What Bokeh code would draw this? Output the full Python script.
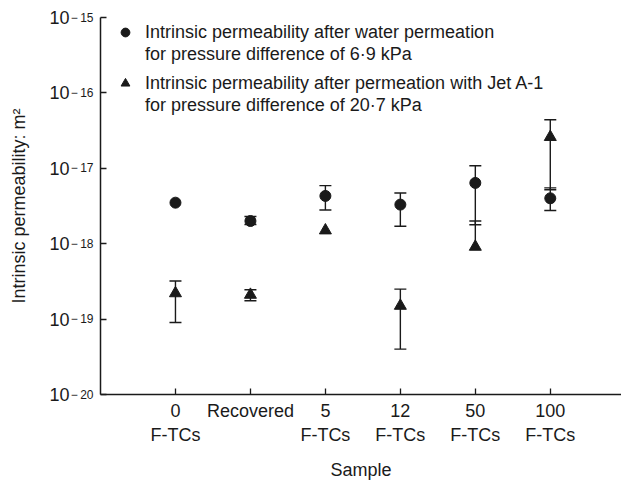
import math
from bokeh.plotting import figure
from bokeh.models import (Range1d, FixedTicker, CustomJSTickFormatter, Legend, LegendItem,
                          LogAxis)
from bokeh.embed import file_html
from bokeh.resources import INLINE

# ---- data ----
samples = ["0\nF-TCs", "Recovered", "5\nF-TCs", "12\nF-TCs", "50\nF-TCs", "100\nF-TCs"]
nan = float("nan")
water = [3.5e-18, 2.0e-18, 4.3e-18, 3.3e-18, 6.4e-18, 4.0e-18]
water_hi = [nan, 2.3e-18, 5.9e-18, 4.7e-18, 1.08e-17, 5.5e-18]
water_lo = [nan, 1.8e-18, 2.8e-18, 1.7e-18, 1.78e-18, 2.75e-18]
jet = [2.2e-19, 2.1e-19, 1.5e-18, 1.5e-19, 9.1e-19, 2.6e-17]
jet_hi = [3.2e-19, 2.45e-19, nan, 2.5e-19, 2.0e-18, 4.4e-17]
jet_lo = [9.0e-20, 1.75e-19, nan, 4.0e-20, nan, 5.2e-18]
y_ticks = [1e-20, 1e-19, 1e-18, 1e-17, 1e-16, 1e-15]

label_water = ["Intrinsic permeability after water permeation",
               "for pressure difference of 6·9 kPa"]
label_jet = ["Intrinsic permeability after permeation with Jet A-1",
             "for pressure difference of 20·7 kPa"]

FONT = "Liberation Sans"
INK = "#1a1a1a"

xs = list(range(len(samples)))

p = figure(width=621, height=482, output_backend="svg", toolbar_location=None,
           y_axis_type="log", x_range=Range1d(-1, 5.95), y_range=Range1d(1e-20, 1e-15),
           min_border_left=100, min_border_top=17, min_border_bottom=87, min_border_right=0)
p.outline_line_color = None
p.grid.visible = False
p.background_fill_color = "white"
p.border_fill_color = "white"


def seg(vals, lo, hi):
    y0 = [l if math.isfinite(l) else v for v, l in zip(vals, lo)]
    y1 = [h if math.isfinite(h) else v for v, h in zip(vals, hi)]
    return y0, y1


for vals, lo, hi in ((water, water_lo, water_hi), (jet, jet_lo, jet_hi)):
    y0, y1 = seg(vals, lo, hi)
    p.segment(x0=xs, y0=y0, x1=xs, y1=y1, line_color=INK, line_width=1.4)
    p.scatter(x=xs, y=hi, marker="dash", size=12, line_color=INK, line_width=1.4)
    p.scatter(x=xs, y=lo, marker="dash", size=12, line_color=INK, line_width=1.4)

r_water = p.scatter(x=xs, y=water, marker="circle", size=11, fill_color=INK, line_color=INK)
r_jet = p.scatter(x=xs, y=jet, marker="triangle", size=12, fill_color=INK, line_color=INK)
# invisible renderer used for second legend lines
r_blank = p.scatter(x=[], y=[], marker="circle", fill_alpha=0, line_alpha=0)

legend_kw = dict(margin=0, padding=0, spacing=0,
                 glyph_width=36, glyph_height=22, label_standoff=2,
                 label_text_font=FONT, label_text_font_size="18px", label_text_color=INK,
                 border_line_color=None, background_fill_alpha=0)
leg1 = Legend(items=[LegendItem(label=label_water[0], renderers=[r_water]),
                     LegendItem(label=label_water[1], renderers=[r_blank])],
              location=(7, 329), **legend_kw)
leg2 = Legend(items=[LegendItem(label=label_jet[0], renderers=[r_jet]),
                     LegendItem(label=label_jet[1], renderers=[r_blank])],
              location=(7, 278), **legend_kw)
p.add_layout(leg1)
p.add_layout(leg2)

# axes
for ax in (p.xaxis[0], p.yaxis[0]):
    ax.axis_line_color = INK
    ax.axis_line_width = 1.5
    ax.major_tick_line_color = INK
    ax.major_tick_line_width = 1.3
    ax.major_tick_in = 6
    ax.major_tick_out = 0
    ax.minor_tick_line_color = None
    ax.major_label_text_font = FONT
    ax.major_label_text_font_size = "18px"
    ax.major_label_text_color = INK
    ax.axis_label_text_font = FONT
    ax.axis_label_text_font_size = "18px"
    ax.axis_label_text_font_style = "normal"
    ax.axis_label_text_color = INK

p.xaxis.ticker = FixedTicker(ticks=xs)
p.xaxis.major_label_overrides = {i: s for i, s in enumerate(samples)}
p.xaxis.axis_label = "Sample"
p.xaxis.major_label_standoff = 6
p.xaxis.axis_label_standoff = 12

# inner y axis: exponent (superscript) part of the tick labels
p.yaxis.ticker = FixedTicker(ticks=y_ticks)
p.yaxis.formatter = CustomJSTickFormatter(
    code="return '\u2212\u2009' + Math.abs(Math.round(Math.log10(tick)));")
p.yaxis.major_label_text_font_size = "12px"
p.yaxis.major_label_text_baseline = "alphabetic"
p.yaxis.major_label_standoff = 7

# outer y axis: base "10" of the tick labels and axis title
y_base = LogAxis(ticker=FixedTicker(ticks=y_ticks),
                 formatter=CustomJSTickFormatter(code="return '10';"),
                 axis_line_color=None, major_tick_line_color=None, minor_tick_line_color=None,
                 major_tick_in=0, major_tick_out=0, major_label_standoff=-2,
                 major_label_text_font=FONT, major_label_text_font_size="18px",
                 major_label_text_color=INK,
                 axis_label="Intrinsic permeability: m²", axis_label_standoff=17,
                 axis_label_text_font=FONT, axis_label_text_font_size="18px",
                 axis_label_text_font_style="normal", axis_label_text_color=INK)
p.add_layout(y_base, "left")

open("out.html", "w").write(file_html(p, INLINE))
